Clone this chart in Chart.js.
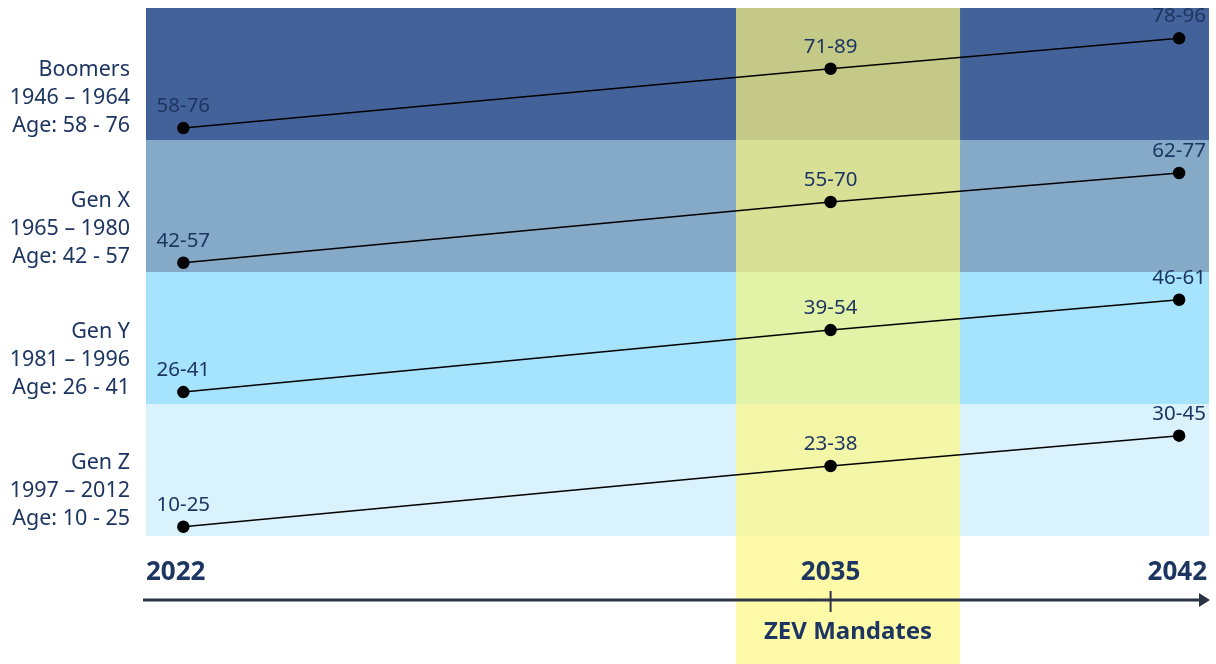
<!DOCTYPE html>
<html>
<head>
<meta charset="utf-8">
<script src="https://cdn.jsdelivr.net/npm/chart.js@4/dist/chart.umd.min.js"></script>
<style>
  html, body { margin: 0; padding: 0; background: #fff; }
  canvas { display: block; }
</style>
</head>
<body>
<canvas id="timeline" width="1216" height="664"></canvas>
<script>
// Milestone years on the timeline
const years = [2022, 2035, 2042];
const zevYear = 2035;
const zevWindow = [2033.1, 2037.6];

// Generations, top band first
const generations = ['Boomers', 'Gen X', 'Gen Y', 'Gen Z'];
const birthRanges = ['1946 – 1964', '1965 – 1980', '1981 – 1996', '1997 – 2012'];
const ageLines = ['Age: 58 - 76', 'Age: 42 - 57', 'Age: 26 - 41', 'Age: 10 - 25'];

// Position of each point inside the stacked bands (0 = bottom of Gen Z, 4 = top of Boomers)
const boomersPos = [3.09, 3.54, 3.77];
const genXPos = [2.07, 2.53, 2.75];
const genYPos = [1.09, 1.56, 1.79];
const genZPos = [0.07, 0.53, 0.76];

// Age range labels at each milestone
const boomersAges = ['58-76', '71-89', '78-96'];
const genXAges = ['42-57', '55-70', '62-77'];
const genYAges = ['26-41', '39-54', '46-61'];
const genZAges = ['10-25', '23-38', '30-45'];

const bandColors = ['#44629a', '#85aac8', '#a6e4fd', '#daf2fc'];
const navy = '#1d3561';
const font = '"Noto Sans", "Open Sans", sans-serif';

const series = [
    { name: generations[0], pos: boomersPos, ages: boomersAges },
    { name: generations[1], pos: genXPos, ages: genXAges },
    { name: generations[2], pos: genYPos, ages: genYAges },
    { name: generations[3], pos: genZPos, ages: genZAges }
];

const backdrop = {
    id: 'backdrop',
    beforeDatasetsDraw(chart) {
        const { ctx, chartArea, scales: { x, y } } = chart;
        ctx.save();

        // generation bands
        generations.forEach((g, i) => {
            const top = y.getPixelForValue(4 - i);
            const bottom = y.getPixelForValue(3 - i);
            ctx.fillStyle = bandColors[i];
            ctx.fillRect(chartArea.left, top, chartArea.right - chartArea.left, bottom - top);

            // left labels
            ctx.fillStyle = navy;
            ctx.font = '21.5px ' + font;
            ctx.textAlign = 'right';
            ctx.textBaseline = 'middle';
            const lx = chartArea.left - 16;
            const ly = top + 62 - i;
            ctx.fillText(g, lx, ly);
            ctx.fillText(birthRanges[i], lx, ly + 28);
            ctx.fillText(ageLines[i], lx, ly + 56);
        });

        // ZEV mandate window
        const zx0 = x.getPixelForValue(zevWindow[0]);
        const zx1 = x.getPixelForValue(zevWindow[1]);
        ctx.fillStyle = 'rgba(254, 248, 128, 0.69)';
        ctx.fillRect(zx0, chartArea.top, zx1 - zx0, chart.height - chartArea.top);

        // timeline axis
        const ay = chartArea.bottom + 64;
        ctx.strokeStyle = '#2b3446';
        ctx.lineWidth = 3;
        ctx.beginPath();
        ctx.moveTo(chartArea.left - 3, ay);
        ctx.lineTo(chartArea.right - 6, ay);
        ctx.stroke();
        ctx.fillStyle = '#2b3446';
        ctx.beginPath();
        ctx.moveTo(chartArea.right + 1, ay);
        ctx.lineTo(chartArea.right - 10, ay - 7);
        ctx.lineTo(chartArea.right - 10, ay + 7);
        ctx.closePath();
        ctx.fill();

        const tx = x.getPixelForValue(zevYear);
        ctx.lineWidth = 2;
        ctx.beginPath();
        ctx.moveTo(tx, ay - 9);
        ctx.lineTo(tx, ay + 12);
        ctx.stroke();

        ctx.fillStyle = navy;
        ctx.font = 'bold 26px ' + font;
        ctx.textBaseline = 'middle';
        ctx.textAlign = 'left';
        ctx.fillText(String(years[0]), chartArea.left, ay - 27);
        ctx.textAlign = 'center';
        ctx.fillText(String(years[1]), tx, ay - 27);
        ctx.textAlign = 'right';
        ctx.fillText(String(years[2]), chartArea.right - 2, ay - 27);

        ctx.textAlign = 'center';
        ctx.font = 'bold 24px ' + font;
        ctx.fillText('ZEV Mandates', (zx0 + zx1) / 2, ay + 32);

        ctx.restore();
    },
    afterDatasetsDraw(chart) {
        const { ctx } = chart;
        ctx.save();
        ctx.fillStyle = navy;
        ctx.font = '20.5px ' + font;
        ctx.textAlign = 'center';
        ctx.textBaseline = 'middle';
        chart.data.datasets.forEach((ds, i) => {
            chart.getDatasetMeta(i).data.forEach((pt, j) => {
                ctx.fillText(series[i].ages[j], pt.x, pt.y - 22);
            });
        });
        ctx.restore();
    }
};

new Chart(document.getElementById('timeline').getContext('2d'), {
    type: 'line',
    data: {
        datasets: series.map(s => ({
            label: s.name,
            data: years.map((yr, j) => ({ x: yr, y: s.pos[j] })),
            borderColor: '#000',
            borderWidth: 1.5,
            pointRadius: 5.5,
            pointBackgroundColor: '#000',
            pointBorderColor: '#000',
            tension: 0,
            clip: false
        }))
    },
    options: {
        responsive: false,
        animation: false,
        layout: { padding: { left: 146, right: 1, top: 8, bottom: 128 } },
        scales: {
            x: { type: 'linear', min: 2021.25, max: 2042.6, display: false },
            y: { type: 'linear', min: 0, max: 4, display: false }
        },
        plugins: {
            legend: { display: false },
            tooltip: { enabled: false }
        }
    },
    plugins: [backdrop]
});
</script>
</body>
</html>
